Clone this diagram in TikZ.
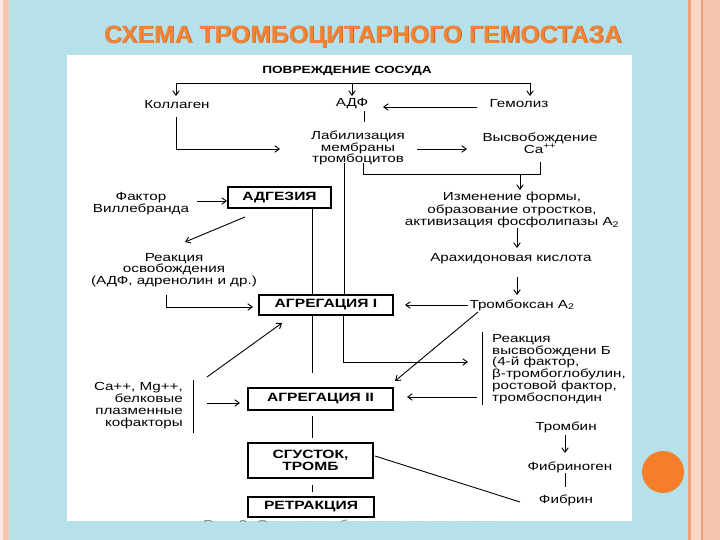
\documentclass[tikz,border=0pt]{standalone}
\usepackage{fontspec}
\usetikzlibrary{arrows.meta,calc}
\newfontfamily\dfont{Liberation Sans}[FakeStretch=1.3]
\newfontfamily\tfont{Liberation Sans}
\definecolor{bgblue}{RGB}{182,224,234}
\definecolor{peach}{RGB}{246,196,176}
\definecolor{peachd}{RGB}{240,160,120}
\definecolor{pale}{RGB}{250,214,200}
\definecolor{ttl}{RGB}{242,132,52}
\definecolor{ttlsh}{RGB}{200,96,40}
\definecolor{circ}{RGB}{245,126,42}
\begin{document}
\begin{tikzpicture}[x=1pt,y=-1pt,
  txt/.style={font=\dfont\fontsize{11.7}{11.8}\selectfont, inner sep=0pt, align=center},
  btxt/.style={font=\dfont\bfseries\fontsize{10.5}{11}\selectfont, inner sep=0pt},
  box/.style={draw, line width=1.2pt, inner sep=0pt, align=center, font=\dfont\bfseries\fontsize{12}{12}\selectfont},
  ln/.style={line width=0.9pt},
  arr/.style={line width=0.9pt, -{Straight Barb[length=4.5pt,width=6.5pt]}}]
\useasboundingbox (0,0) rectangle (720,540);
% background
\fill[bgblue] (0,0) rectangle (720,540);
\fill[white!60!peach] (0,0) rectangle (3,540);
\fill[peach] (3,0) rectangle (9,540);
\fill[peachd] (688,0) rectangle (690.5,540);
\fill[pale] (690.5,0) rectangle (700.5,540);
\fill[peachd] (700.5,0) rectangle (702.5,540);
\fill[peach] (702.5,0) rectangle (720,540);
\fill[circ] (663,472) circle (21);
% title
\node[font=\tfont\bfseries\fontsize{24.8}{26}\selectfont, text=ttlsh, inner sep=0pt] at (363.8,37.8) {СХЕМА ТРОМБОЦИТАРНОГО ГЕМОСТАЗА};
\node[font=\tfont\bfseries\fontsize{24.8}{26}\selectfont, text=ttl, inner sep=0pt] (title) at (363,37) {СХЕМА ТРОМБОЦИТАРНОГО ГЕМОСТАЗА};
% white panel
\fill[white] (67,55) rectangle (632,521);
\begin{scope}
\clip (67,55) rectangle (632,521);
\node[font=\dfont\fontsize{11.5}{12}\selectfont, text=black!50, inner sep=0pt] (cap) at (352,525) {Рис. 2. Схема тромбоцитарного гемостаза};
\end{scope}
% nodes
\node[btxt] (povr) at (347,71) {ПОВРЕЖДЕНИЕ СОСУДА};
\node[txt] (kol) at (177,105) {Коллаген};
\node[txt] (adf) at (352,104) {АДФ};
\node[txt] (gem) at (519,104) {Гемолиз};
\node[txt] (lab) at (358,148) {Лабилизация\\мембраны\\тромбоцитов};
\node[txt] (vys) at (540,143) {Высвобождение\\Ca\textsuperscript{++}};
\node[box, minimum width=103, minimum height=21] (ad) at (279.5,197.5) {АДГЕЗИЯ};
\node[txt] (fak) at (141,204) {Фактор\\Виллебранда};
\node[txt] (rea) at (174,270) {Реакция\\освобождения\\(АДФ, адренолин и др.)};
\node[txt, font=\dfont\fontsize{11.7}{12.5}\selectfont] (izm) at (512,210) {Изменение формы,\\образование отростков,\\активизация фосфолипазы A\textsubscript{2}};
\node[txt] (arah) at (511,259) {Арахидоновая кислота};
\node[box, minimum width=134, minimum height=20] (ag1) at (326,305) {АГРЕГАЦИЯ I};
\node[txt] (txa) at (522,305) {Тромбоксан A\textsubscript{2}};
\node[txt, align=left, anchor=west] (relB) at (492,369) {Реакция\\высвобождени Б\\(4-й фактор,\\β-тромбоглобулин,\\ростовой фактор,\\тромбоспондин};
\node[box, minimum width=145, minimum height=22] (ag2) at (320.5,399) {АГРЕГАЦИЯ II};
\node[txt, align=right, anchor=east] (cof) at (183,405.5) {Ca++, Mg++,\\белковые\\плазменные\\кофакторы};
\node[box, minimum width=125, minimum height=35] (clot) at (310.5,460.5) {СГУСТОК,\\ТРОМБ};
\node[box, minimum width=126, minimum height=20] (ret) at (311,507) {РЕТРАКЦИЯ};
\node[txt] (thr) at (566,427) {Тромбин};
\node[txt] (fbg) at (570,467) {Фибриноген};
\node[txt] (fbn) at (566,500) {Фибрин};
% connectors
\draw[ln] ($(kol)+(-1,-22)$) -- ($(gem)+(11,-21)$);
\draw[arr] ($(kol)+(-1,-22)$) -- ($(kol)+(-1,-9)$);
\draw[arr] ($(adf)+(0,-21)$) -- ($(adf)+(0,-8)$);
\draw[arr] ($(gem)+(11,-21)$) -- ($(gem)+(11,-8)$);
\draw[arr] ($(gem)+(-42,3)$) -- ($(adf)+(31,3)$);
\draw[ln] ($(adf)+(12,7)$) -- ($(lab)+(6,-26)$);
\draw[arr] ($(kol)+(-1,12)$) |- ($(lab)+(-78,1)$);
\draw[arr] ($(lab)+(59,1)$) -- ($(vys)+(-73,6)$);
\draw[ln] ($(vys)+(0,19)$) |- ($(lab)+(5,26)$) -- ($(lab)+(5,15)$);
\draw[arr] ($(izm)+(8,-36)$) -- ($(izm)+(8,-20)$);
\draw[ln] ($(lab)+(-14,15)$) -- ($(ag1)+(18,-10)$);
\draw[arr] ($(fak)+(56,-3)$) -- ($(ad)+(-52.5,3.5)$);
\draw[arr] ($(ad)+(-34.5,19.5)$) -- ($(rea)+(11,-28)$);
\draw[ln] ($(ad)+(32.5,10.5)$) -- ($(ag1)+(-14,-10)$);
\draw[arr] ($(rea)+(-8,25)$) |- ($(ag1)+(-73,2)$);
\draw[arr] ($(izm)+(5,18)$) -- ($(arah)+(6,-11)$);
\draw[arr] ($(arah)+(6,18)$) -- ($(txa)+(-5,-10)$);
\draw[arr] ($(txa)+(-54,0)$) -- ($(ag1)+(79,0)$);
\draw[arr] ($(txa)+(-44,7)$) -- ($(ag2)+(74.5,-18)$);
\draw[ln] ($(ag1)+(-14,10)$) -- ($(ag2)+(-8.5,-26)$);
\draw[arr] ($(ag1)+(17,10)$) |- ($(relB.west)+(-24,-7)$);
\draw[ln] ($(relB.west)+(-10,-37)$) -- ($(relB.west)+(-10,36)$);
\draw[arr] ($(relB.west)+(-15,28)$) -- ($(ag2)+(86.5,-2)$);
\draw[ln] ($(cof.east)+(10,-25.5)$) -- ($(cof.east)+(10,27.5)$);
\draw[arr] ($(cof.east)+(24,-2.5)$) -- ($(ag2)+(-80.5,4)$);
\draw[arr] ($(cof.east)+(24,-28.5)$) -- ($(ag1)+(-44,18)$);
\draw[ln] ($(ag2)+(-8.5,17)$) -- ($(clot)+(1.5,-22.5)$);
\draw[ln] ($(clot)+(1.5,24.5)$) -- ($(ret)+(1,-15)$);
\draw[ln] ($(clot)+(64.5,-4.5)$) -- ($(fbn)+(-46,2)$);
\draw[arr] ($(thr)+(-1,8)$) -- ($(fbg)+(-5,-14)$);
\draw[ln] ($(fbg)+(-5,6)$) -- ($(fbn)+(-1,-13)$);
\end{tikzpicture}
\end{document}
